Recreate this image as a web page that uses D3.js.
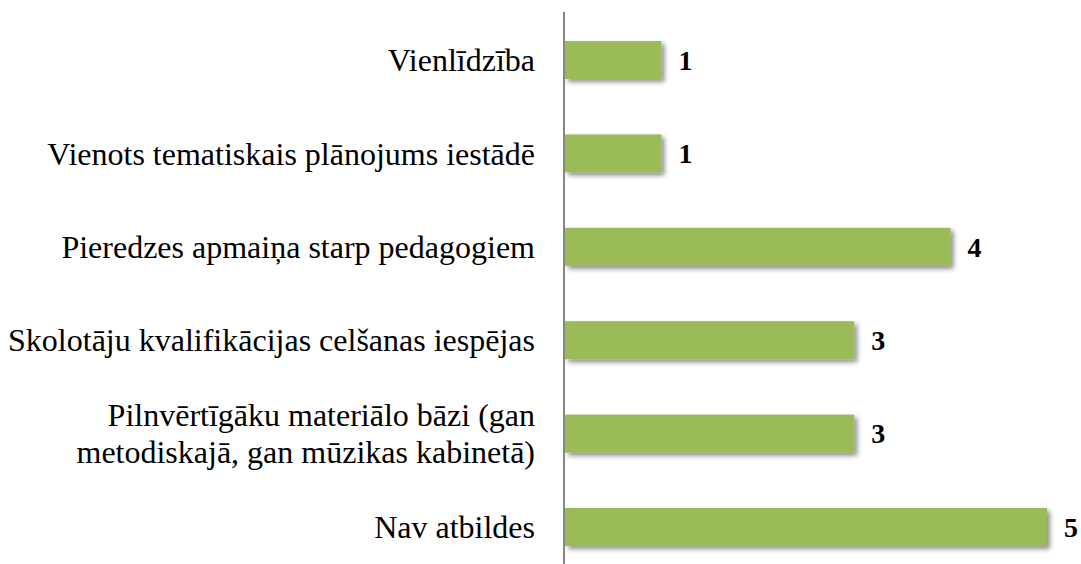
<!DOCTYPE html>
<html>
<head>
<meta charset="utf-8">
<script src="https://cdn.jsdelivr.net/npm/d3@7"></script>
<style>
  body { margin: 0; background: #fff; }
</style>
</head>
<body>
<div id="chart"></div>
<script>
// categories top to bottom, multi-line labels split by "|"
var categories = [
  "Vienlīdzība",
  "Vienots tematiskais plānojums iestādē",
  "Pieredzes apmaiņa starp pedagogiem",
  "Skolotāju kvalifikācijas celšanas iespējas",
  "Pilnvērtīgāku materiālo bāzi (gan|metodiskajā, gan mūzikas kabinetā)",
  "Nav atbildes"
];
var values = [1, 1, 4, 3, 3, 5];

var serif = "'Liberation Serif', 'Times New Roman', Times, 'DejaVu Serif', serif";

var svg = d3.select("#chart").append("svg")
    .attr("width", 1081)
    .attr("height", 564)
    .style("font-family", serif);

var defs = svg.append("defs");
var filter = defs.append("filter").attr("id", "shadow")
    .attr("x", "-5%").attr("y", "-20%").attr("width", "115%").attr("height", "160%");
filter.append("feGaussianBlur").attr("in", "SourceAlpha").attr("stdDeviation", 2.5);
filter.append("feOffset").attr("dx", 3).attr("dy", 3).attr("result", "blur");
filter.append("feComponentTransfer").append("feFuncA").attr("type", "linear").attr("slope", 0.45);
var merge = filter.append("feMerge");
merge.append("feMergeNode");
merge.append("feMergeNode").attr("in", "SourceGraphic");

var x = d3.scaleLinear().domain([0, 5]).range([565, 1047]);
var y = d3.scaleBand()
    .domain(categories)
    .range([13.3, 573.7])
    .paddingInner(0.593)
    .paddingOuter(0.2965);

svg.selectAll(".bar")
    .data(values)
  .enter().append("rect")
    .attr("class", "bar")
    .attr("x", x(0))
    .attr("y", function(d, i) { return y(categories[i]); })
    .attr("width", function(d) { return x(d) - x(0); })
    .attr("height", y.bandwidth())
    .attr("fill", "#9bbb59")
    .attr("filter", "url(#shadow)");

// axis line
svg.append("line")
    .attr("x1", 564).attr("x2", 564)
    .attr("y1", 12).attr("y2", 564)
    .attr("stroke", "#868686")
    .attr("stroke-width", 2);

// category labels
var lab = svg.selectAll(".cat")
    .data(categories)
  .enter().append("text")
    .attr("class", "cat")
    .attr("text-anchor", "end")
    .attr("font-family", serif)
    .attr("font-size", 32)
    .attr("fill", "#000");

lab.each(function(d) {
  var lines = d.split("|");
  var cy = y(d) + y.bandwidth() / 2;
  var lh = 37;
  var t = d3.select(this);
  lines.forEach(function(l, i) {
    t.append("tspan")
      .attr("x", 535)
      .attr("y", cy + (i - (lines.length - 1) / 2) * lh)
      .attr("dy", "0.35em")
      .text(l);
  });
});

// value labels
svg.selectAll(".val")
    .data(values)
  .enter().append("text")
    .attr("class", "val")
    .attr("x", function(d) { return x(d) + 17; })
    .attr("y", function(d, i) { return y(categories[i]) + y.bandwidth() / 2; })
    .attr("dy", "0.35em")
    .attr("font-family", serif)
    .attr("font-size", 28)
    .attr("font-weight", "bold")
    .text(function(d) { return d; });
</script>
</body>
</html>
